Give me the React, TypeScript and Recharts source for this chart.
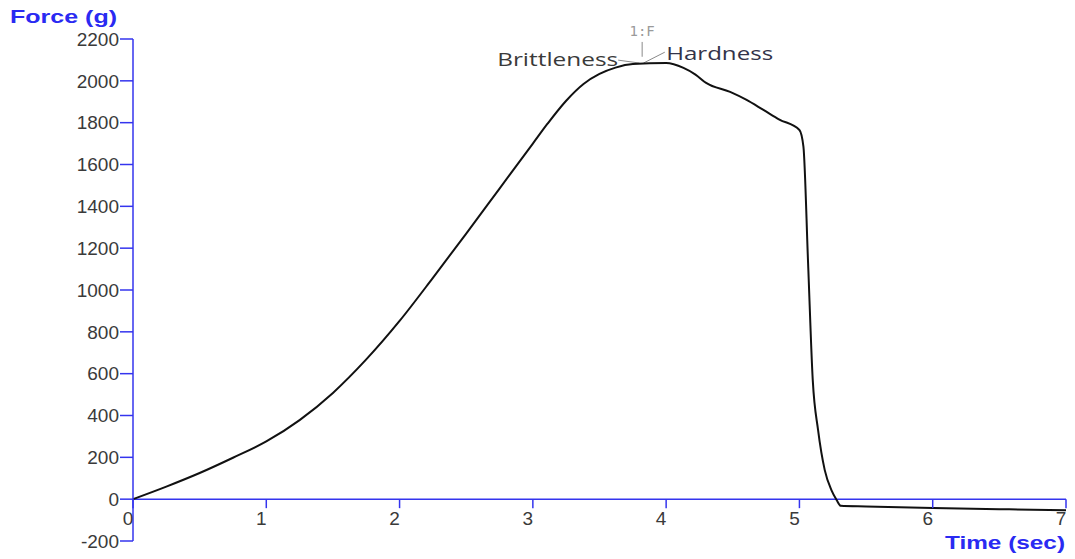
import { LineChart, Line, XAxis, YAxis, ReferenceLine, ReferenceDot } from "recharts";

// texture analyser curve: force (g) against time (sec)
const time = [
  0, 0.25, 0.5, 0.75, 1.0, 1.25, 1.5, 1.75, 2.0, 2.25, 2.5, 2.75, 3.0, 3.11,
  3.25, 3.38, 3.5, 3.62, 3.75, 4.0, 4.13, 4.22, 4.3, 4.48, 4.6, 4.73, 4.85,
  5.0, 5.03, 5.065, 5.1, 5.14, 5.19, 5.24, 5.28, 5.31, 5.5, 6.0, 6.5, 7.0,
];
const force = [
  0, 60, 125, 198, 276, 378, 508, 668, 852, 1058, 1270, 1485, 1700, 1795,
  1905, 1985, 2033, 2063, 2080, 2085, 2062, 2030, 1990, 1947, 1910, 1861, 1815,
  1765, 1685, 1128, 569, 330, 139, 43, -5, -32, -35, -42, -48, -53,
];
const xTicks = [0, 1, 2, 3, 4, 5, 6, 7];
const yTicks = [-200, 0, 200, 400, 600, 800, 1000, 1200, 1400, 1600, 1800, 2000, 2200];

const data = time.map((t, i) => ({ time: t, force: force[i] }));

const W = 1075;
const H = 559;
const MARGIN = { top: 39, right: 9, bottom: 0, left: 0 };
const X_AXIS_H = 18;
const Y_MIN = -200;
const Y_MAX = 2200;
const plotH = H - MARGIN.top - MARGIN.bottom - X_AXIS_H;
// the time axis sits on force = 0, not at the bottom of the plot
const zeroShift = (plotH * (0 - Y_MIN)) / (Y_MAX - Y_MIN);

const BLUE = "#3434ee";
const TITLE_BLUE = "#2a2af2";
const TICK_TEXT = "#3a3a3a";
const TICK_FONT = "'Liberation Sans', Arial, sans-serif";
const NOTE_FONT = "'Open Sans', 'Noto Sans', sans-serif";

const TimeTick = (props: any) => {
  const { x, y, payload } = props;
  const y0 = y - zeroShift;
  return (
    <g>
      <line x1={x} x2={x} y1={y0} y2={y0 + 9} stroke={BLUE} strokeWidth={1.5} />
      <text
        x={x - 5}
        y={y0 + 19}
        textAnchor="middle"
        dominantBaseline="central"
        fontSize={19}
        fontFamily={TICK_FONT}
        fill={TICK_TEXT}
      >
        {payload.value}
      </text>
    </g>
  );
};

const App = () => {
  return (
    <div style={{ position: "absolute", left: 0, top: 0, background: "#fff" }}>
      <LineChart width={W} height={H} data={data} margin={MARGIN}>
        <XAxis
          dataKey="time"
          type="number"
          domain={[0, 7]}
          ticks={xTicks}
          height={X_AXIS_H}
          axisLine={false}
          tickLine={false}
          tickSize={0}
          tickMargin={0}
          tick={<TimeTick />}
          interval={0}
          label={{
            content: (p: any) => {
              const vb = p.viewBox;
              return (
                <text
                  x={vb.x + vb.width - 1}
                  y={vb.y + 1}
                  textAnchor="end"
                  dominantBaseline="central"
                  fontSize={19}
                  fontWeight="bold"
                  fontFamily={TICK_FONT}
                  fill={TITLE_BLUE}
                  textLength={120}
                  lengthAdjust="spacingAndGlyphs"
                >
                  Time (sec)
                </text>
              );
            },
          }}
        />
        <YAxis
          type="number"
          domain={[Y_MIN, Y_MAX]}
          ticks={yTicks}
          interval={0}
          width={133}
          tickSize={13}
          tickMargin={1}
          axisLine={{ stroke: BLUE, strokeWidth: 1.5 }}
          tickLine={{ stroke: BLUE, strokeWidth: 1.5 }}
          tick={{ fontSize: 19, fontFamily: TICK_FONT, fill: TICK_TEXT }}
          label={{
            content: (p: any) => {
              const vb = p.viewBox;
              return (
                <text
                  x={vb.x + vb.width / 2 - 3}
                  y={vb.y - 22}
                  textAnchor="middle"
                  dominantBaseline="central"
                  fontSize={18}
                  fontWeight="bold"
                  fontFamily={TICK_FONT}
                  fill={TITLE_BLUE}
                  textLength={107}
                  lengthAdjust="spacingAndGlyphs"
                >
                  Force (g)
                </text>
              );
            },
          }}
        />
        <ReferenceLine y={0} stroke={BLUE} strokeWidth={1.5} />

        {/* peak markers */}
        <ReferenceLine
          segment={[{ x: 3.82, y: 2115 }, { x: 3.82, y: 2186 }]}
          stroke="#8a8a8a"
          strokeWidth={1}
          ifOverflow="visible"
        />
        <ReferenceLine
          segment={[{ x: 3.64, y: 2099 }, { x: 3.8, y: 2085 }]}
          stroke="#8a8a8a"
          strokeWidth={1}
          ifOverflow="visible"
        />
        <ReferenceLine
          segment={[{ x: 3.83, y: 2085 }, { x: 3.99, y: 2137 }]}
          stroke="#8a8a8a"
          strokeWidth={1}
          ifOverflow="visible"
        />
        <ReferenceDot
          x={3.82}
          y={2238}
          r={0}
          fill="none"
          stroke="none"
          ifOverflow="visible"
          label={{
            content: (p: any) => (
              <text
                x={p.viewBox.x}
                y={p.viewBox.y}
                textAnchor="middle"
                dominantBaseline="central"
                fontSize={14}
                fontFamily="'DejaVu Sans Mono', monospace"
                fill="#9a9a9a"
              >
                1:F
              </text>
            ),
          }}
        />
        <ReferenceDot
          x={3.64}
          y={2104}
          r={0}
          fill="none"
          stroke="none"
          ifOverflow="visible"
          label={{
            content: (p: any) => (
              <text
                x={p.viewBox.x}
                y={p.viewBox.y}
                textAnchor="end"
                dominantBaseline="central"
                fontSize={19}
                fontFamily={NOTE_FONT}
                fill="#3a3a3a"
                textLength={121}
                lengthAdjust="spacingAndGlyphs"
              >
                Brittleness
              </text>
            ),
          }}
        />
        <ReferenceDot
          x={4.0}
          y={2135}
          r={0}
          fill="none"
          stroke="none"
          ifOverflow="visible"
          label={{
            content: (p: any) => (
              <text
                x={p.viewBox.x}
                y={p.viewBox.y}
                textAnchor="start"
                dominantBaseline="central"
                fontSize={19}
                fontFamily={NOTE_FONT}
                fill="#33334a"
                textLength={107}
                lengthAdjust="spacingAndGlyphs"
              >
                Hardness
              </text>
            ),
          }}
        />

        <Line
          type="monotone"
          dataKey="force"
          stroke="#111"
          strokeWidth={2}
          dot={false}
          isAnimationActive={false}
        />
      </LineChart>
    </div>
  );
};

export default App;
